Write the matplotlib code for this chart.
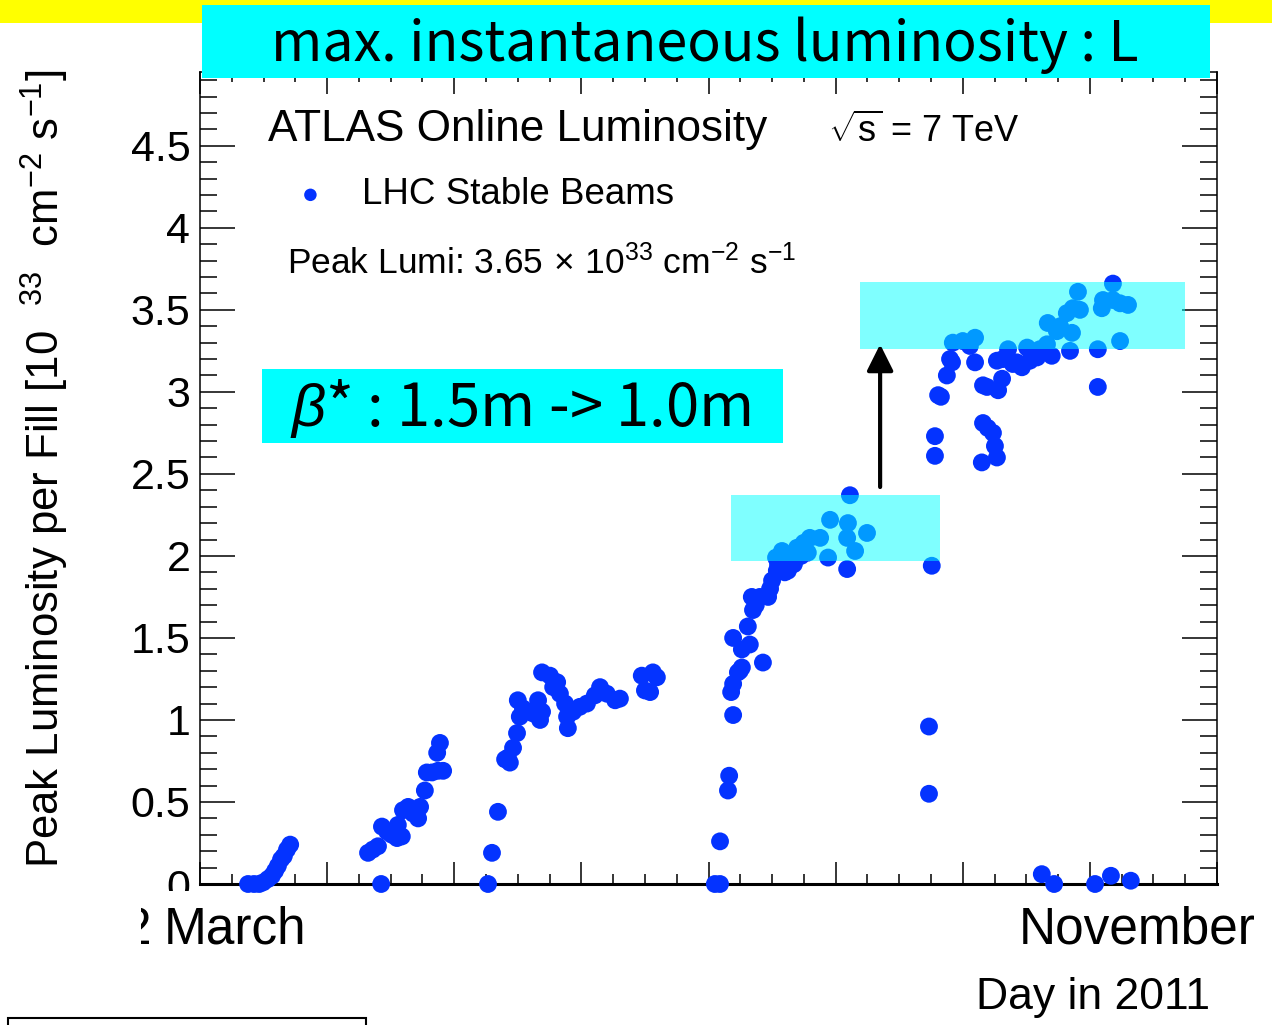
import matplotlib
matplotlib.use('Agg')
import matplotlib.pyplot as plt
from matplotlib.patches import Rectangle
import numpy as np

plt.rcParams['font.family'] = ['Liberation Sans', 'DejaVu Sans']
plt.rcParams['mathtext.fontset'] = 'custom'
plt.rcParams['mathtext.rm'] = 'Liberation Sans'
plt.rcParams['mathtext.it'] = 'Liberation Sans:italic'
plt.rcParams['mathtext.sf'] = 'Liberation Sans'

# peak luminosity per fill (day in 2011, 1e33 cm-2 s-1)
mar_day = [68.1, 69.6, 70.9, 71.9, 73.1, 74.1, 74.9, 75.6, 76.4, 77.1, 77.9, 78.7]
mar_lumi = [0, 0, 0, 0.01, 0.03, 0.05, 0.08, 0.11, 0.15, 0.17, 0.21, 0.24]

apr_day = [98.3, 99.5, 100.8, 101.6, 101.8, 103.1, 104.3, 105.6, 106.8, 105.8, 107.1,
           108.4, 109.6, 110.9, 111.4, 112.6, 113.1, 114.4, 115.9, 117.2, 115.7, 116.4]
apr_lumi = [0.19, 0.21, 0.23, 0.0, 0.35, 0.32, 0.30, 0.28, 0.29, 0.36, 0.45,
            0.47, 0.43, 0.40, 0.47, 0.57, 0.68, 0.68, 0.69, 0.69, 0.80, 0.86]

may_day = [128.5, 129.5, 131.0, 132.8, 133.5, 134.0, 134.8, 135.8, 136.5, 136.0,
           137.3, 139.1, 139.8, 141.1, 142.1, 141.6, 142.1, 144.1, 144.9, 145.9,
           146.6, 147.9, 148.4, 148.6, 149.9, 151.6, 153.4, 155.4, 156.7, 158.4,
           160.5, 161.7, 167.2, 170.0, 171.0, 168.0, 169.3]
may_lumi = [0.0, 0.19, 0.44, 0.76, 0.77, 0.74, 0.83, 0.92, 1.02, 1.12,
            1.07, 1.05, 1.04, 1.12, 1.05, 1.00, 1.29, 1.27, 1.20, 1.23,
            1.16, 1.10, 1.02, 0.95, 1.05, 1.08, 1.10, 1.15, 1.20, 1.16,
            1.12, 1.13, 1.27, 1.29, 1.26, 1.18, 1.17]

jul_day = [185.6, 186.9, 186.9, 188.9, 189.2, 190.2, 190.2, 189.7, 191.4, 191.9,
           192.4, 197.7, 190.2, 192.4, 194.4, 193.9, 195.2, 195.9, 194.9, 196.9,
           199.0, 200.0, 201.2, 203.2, 205.5, 201.0, 202.5, 202.7, 201.5, 204.5,
           204.0, 206.3, 207.0, 208.0, 209.5, 212.1, 207.3, 209.0, 214.1, 214.6,
           219.1, 218.9, 219.6, 223.9, 220.9, 218.9, 199.5, 203.8]
jul_lumi = [0.0, 0.0, 0.26, 0.57, 0.66, 1.03, 1.22, 1.17, 1.29, 1.30,
            1.32, 1.35, 1.50, 1.43, 1.46, 1.57, 1.67, 1.70, 1.75, 1.75,
            1.75, 1.85, 1.91, 1.90, 1.95, 1.99, 2.03, 1.97, 1.95, 2.00,
            1.91, 2.05, 2.05, 2.08, 2.11, 2.11, 2.00, 2.02, 1.99, 2.22,
            2.20, 2.11, 2.37, 2.14, 2.03, 1.92, 1.80, 1.96]

aug_day = [240.2, 239.5, 239.5]
aug_lumi = [1.94, 0.96, 0.55]

sep_day = [241.0, 241.0, 241.8, 242.5, 244.0, 244.8, 245.3, 245.5, 248.0, 251.1,
           249.8, 251.1, 253.1, 254.1, 256.9, 257.9, 256.6, 258.1, 259.4, 260.6,
           261.6, 262.9, 264.2, 264.9, 266.7, 267.4, 269.2, 270.4, 275.0, 269.4,
           271.7, 272.5, 274.2, 275.7, 277.5, 277.0, 275.5, 282.0, 282.0, 283.0,
           283.3, 285.8, 285.8, 287.6, 289.6, 287.6, 253.1, 254.3, 255.6, 256.1,
           256.6, 252.8]
sep_lumi = [2.61, 2.73, 2.98, 2.97, 3.10, 3.20, 3.18, 3.30, 3.31, 3.33,
            3.28, 3.18, 3.04, 3.03, 3.01, 3.08, 3.19, 3.20, 3.26, 3.17,
            3.18, 3.15, 3.27, 3.19, 3.21, 3.26, 3.29, 3.22, 3.25, 3.42,
            3.37, 3.40, 3.48, 3.51, 3.50, 3.61, 3.36, 3.26, 3.03, 3.51,
            3.56, 3.56, 3.66, 3.54, 3.53, 3.31, 2.81, 2.78, 2.75, 2.67,
            2.60, 2.57]

oct_day = [267.9, 271.0, 281.3, 285.3, 290.3]
oct_lumi = [0.06, 0.0, 0.0, 0.05, 0.02]

# highlighted regions (day range, lumi range) and the arrow between them
box_low = (189.7, 242.3, 1.97, 2.37)
box_high = (222.1, 303.9, 3.26, 3.67)
arrow_day, arrow_from, arrow_to = 227.2, 2.42, 3.29

ytick_vals = [0, 0.5, 1, 1.5, 2, 2.5, 3, 3.5, 4, 4.5]
ytick_labels = ['0', '0.5', '1', '1.5', '2', '2.5', '3', '3.5', '4', '4.5']

W, H = 1272, 1025


def fx(px):
    return px / W


def fy(py):
    return 1 - py / H


fig = plt.figure(figsize=(W / 100, H / 100), dpi=100)
ax = fig.add_axes([fx(200), fy(884), 1017 / W, 812 / H])

days = np.concatenate([mar_day, apr_day, may_day, jul_day, aug_day, sep_day, oct_day])
lumis = np.concatenate([mar_lumi, apr_lumi, may_lumi, jul_lumi, aug_lumi, sep_lumi, oct_lumi])
ax.scatter(days, lumis, s=165, color='#0433ff', edgecolors='none', zorder=3,
           clip_on=False, label='LHC Stable Beams')

for x0, x1, y0, y1 in [box_low, box_high]:
    ax.add_patch(Rectangle((x0, y0), x1 - x0, y1 - y0, facecolor='cyan',
                           alpha=0.5, edgecolor='none', zorder=4))

ax.annotate('', xy=(arrow_day, arrow_to), xytext=(arrow_day, arrow_from),
            arrowprops=dict(arrowstyle='-|>', lw=3, color='black',
                            mutation_scale=40, shrinkA=0, shrinkB=0), zorder=5)

ax.set_xlim(56, 312)
ax.set_ylim(0, 4.95)
ax.set_xticks(np.arange(56, 313, 32))
ax.set_xticks(np.arange(56, 313, 8), minor=True)
ax.set_xticklabels([])
ax.set_yticks(ytick_vals)
ax.set_yticklabels(ytick_labels, fontsize=31)
ax.set_yticks(np.arange(0, 4.95, 0.1), minor=True)
ax.tick_params(which='both', direction='in', top=True, right=True, width=1.1)
ax.tick_params(axis='x', which='major', length=16)
ax.tick_params(axis='x', which='minor', length=7)
ax.tick_params(axis='y', which='major', length=25, pad=7)
ax.tick_params(axis='y', which='minor', length=12)
for side in ['left', 'right', 'top']:
    ax.spines[side].set_linewidth(1.1)
ax.spines['bottom'].set_linewidth(2.2)

ax.legend(loc='center left', bbox_to_anchor=(fx(292), fy(195)),
          bbox_transform=fig.transFigure, frameon=False, fontsize=26.5,
          borderpad=0, borderaxespad=0, handlelength=1.0, handletextpad=0.9,
          markerscale=0.7)

fig.text(fx(268), fy(130), 'ATLAS Online Luminosity', fontsize=31.8,
         ha='left', va='center')
fig.text(fx(828), fy(132), r'$\sqrt{\mathrm{s}}$ = 7 TeV', fontsize=26, ha='left', va='center')
fig.text(fx(287), fy(263), r'Peak Lumi: 3.65$\,\times\,$10$^{33}$ cm$^{-2}$ s$^{-1}$',
         fontsize=25.5, ha='left', va='center')

fig.text(fx(45), fy(70), r'Peak Luminosity per Fill [10  $^{33}$  cm$^{-2}$ s$^{-1}$]',
         fontsize=31.5, rotation=90, ha='center', va='top')

# slide decorations
fig.add_artist(Rectangle((0, fy(23)), 1, 23 / H, transform=fig.transFigure,
                         facecolor='yellow', edgecolor='none', zorder=6))
fig.add_artist(Rectangle((fx(202), fy(78)), 1008 / W, 73 / H, transform=fig.transFigure,
                         facecolor='cyan', edgecolor='none', zorder=7))
fig.text(fx(705), fy(45), 'max. instantaneous luminosity : L', fontsize=40,
         family=['Noto Sans CJK JP', 'DejaVu Sans'], ha='center', va='center', zorder=8)
fig.add_artist(Rectangle((fx(262), fy(443)), 521 / W, 74 / H, transform=fig.transFigure,
                         facecolor='cyan', edgecolor='none', zorder=7))
fig.text(fx(290), fy(408), r'$\beta$* : 1.5m -> 1.0m', fontsize=43,
         family=['Noto Sans CJK JP', 'DejaVu Sans'], ha='left', va='center', zorder=8)

fig.text(fx(151), fy(930), '2', fontsize=37, ha='right', va='center')
fig.add_artist(Rectangle((0, fy(1012)), fx(141), (1012 - 903) / H, transform=fig.transFigure,
                         facecolor='white', edgecolor='none', zorder=6))
fig.add_artist(Rectangle((0, fy(903)), fx(150), 12 / H, transform=fig.transFigure,
                         facecolor='white', edgecolor='none', zorder=6))
fig.add_artist(Rectangle((fx(160), fy(903)), fx(38), 12 / H, transform=fig.transFigure,
                         facecolor='white', edgecolor='none', zorder=6))
fig.text(fx(235), fy(930), 'March', fontsize=37, ha='center', va='center', zorder=7)
fig.text(fx(1137), fy(930), 'November', fontsize=37, ha='center', va='center')
fig.text(fx(1210), fy(997), 'Day in 2011', fontsize=32, ha='right', va='center')
fig.add_artist(Rectangle((fx(8), fy(1035)), 358 / W, 17 / H, transform=fig.transFigure,
                         facecolor='none', edgecolor='black', lw=1.5, zorder=6))

fig.savefig('out.png', dpi=100)
